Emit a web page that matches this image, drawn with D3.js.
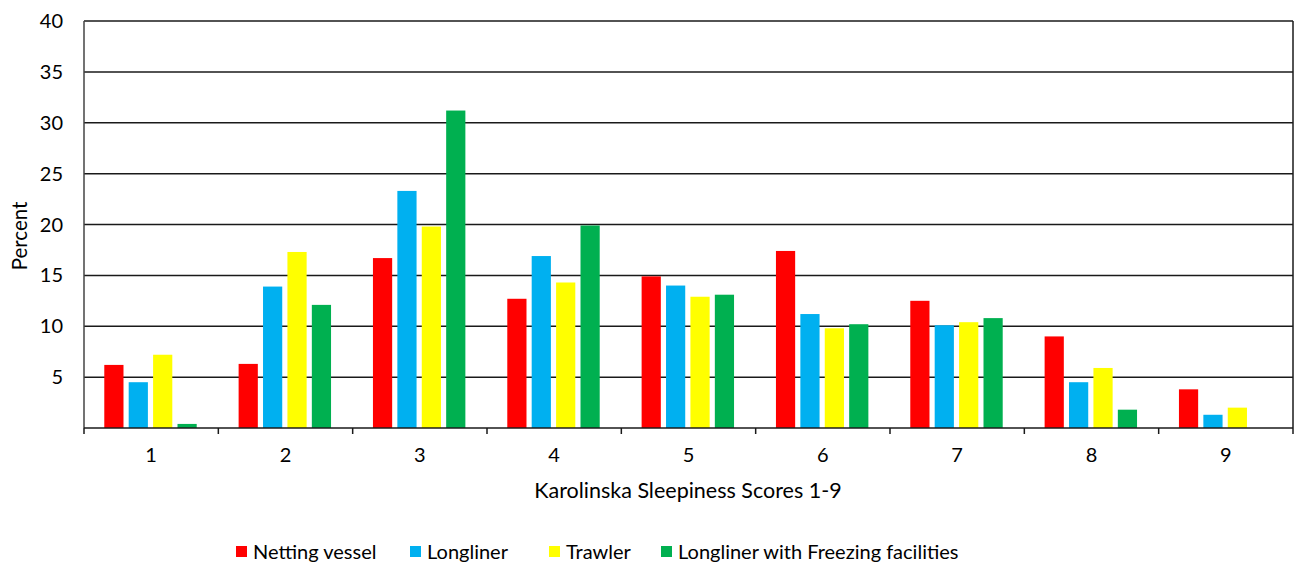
<!DOCTYPE html>
<html lang="en">
<head>
    <meta charset="UTF-8">
    <title>Karolinska Sleepiness Scores</title>
    <script src="https://d3js.org/d3.v7.min.js"></script>
    <style>
        body { margin: 0; background: #fff; font-family: Lato, "Open Sans", sans-serif; }
        svg text { fill: #000; }
    </style>
</head>
<body>
<div id="chart"></div>
<script>
    // Data
    const scores = ["1", "2", "3", "4", "5", "6", "7", "8", "9"];
    const seriesNames = ["Netting vessel", "Longliner", "Trawler", "Longliner with Freezing facilities"];
    const seriesColors = ["#ff0000", "#00b0f0", "#ffff00", "#00b050"];
    const nettingVessel = [6.2, 6.3, 16.7, 12.7, 14.9, 17.4, 12.5, 9.0, 3.8];
    const longliner = [4.5, 13.9, 23.3, 16.9, 14.0, 11.2, 10.1, 4.5, 1.3];
    const trawler = [7.2, 17.3, 19.8, 14.3, 12.9, 9.8, 10.4, 5.9, 2.0];
    const longlinerFreezing = [0.4, 12.1, 31.2, 19.9, 13.1, 10.2, 10.8, 1.8, 0];
    const yTicks = [5, 10, 15, 20, 25, 30, 35, 40];

    const allSeries = [nettingVessel, longliner, trawler, longlinerFreezing];

    const width = 1294, height = 565;
    const margin = { top: 21, right: 1, bottom: 137, left: 84 };

    const svg = d3.select("#chart").append("svg")
        .attr("width", width).attr("height", height);

    const x0 = d3.scaleBand().domain(scores)
        .range([margin.left, width - margin.right]).padding(0);
    const cw = x0.bandwidth();
    const x1 = d3.scaleBand().domain(seriesNames.map((d, i) => i))
        .range([cw * 0.151, cw * 0.839]).paddingInner(0.213).paddingOuter(0);
    const y = d3.scaleLinear().domain([0, 40]).range([height - margin.bottom, margin.top]);

    // gridlines
    svg.append("g").selectAll("line").data(yTicks).join("line")
        .attr("x1", margin.left).attr("x2", width - margin.right)
        .attr("y1", d => y(d)).attr("y2", d => y(d))
        .attr("stroke", "#1a1a1a").attr("stroke-width", 1.5);

    // y labels
    svg.append("g").selectAll("text").data(yTicks).join("text")
        .attr("x", 63).attr("y", d => y(d)).attr("dy", "0.35em")
        .attr("text-anchor", "end").attr("font-size", 20)
        .text(d => d);

    // bars
    const groups = svg.append("g").selectAll("g").data(scores).join("g")
        .attr("transform", d => `translate(${x0(d)},0)`);
    groups.selectAll("rect")
        .data((d, i) => allSeries.map((s, k) => ({ k, v: s[i] })))
        .join("rect")
        .attr("x", d => x1(d.k))
        .attr("width", x1.bandwidth())
        .attr("y", d => y(d.v))
        .attr("height", d => y(0) - y(d.v))
        .attr("fill", d => seriesColors[d.k]);

    // axes lines
    svg.append("line")
        .attr("x1", margin.left).attr("x2", margin.left)
        .attr("y1", y(40)).attr("y2", y(0))
        .attr("stroke", "#444").attr("stroke-width", 1.5);
    svg.append("line")
        .attr("x1", width - margin.right).attr("x2", width - margin.right)
        .attr("y1", y(40)).attr("y2", y(0))
        .attr("stroke", "#1a1a1a").attr("stroke-width", 1.5);
    svg.append("line")
        .attr("x1", margin.left).attr("x2", width - margin.right)
        .attr("y1", y(0)).attr("y2", y(0))
        .attr("stroke", "#1a1a1a").attr("stroke-width", 1.5);

    // x ticks at category boundaries
    const bounds = scores.map(s => x0(s)).concat([width - margin.right]);
    svg.append("g").selectAll("line").data(bounds).join("line")
        .attr("x1", d => d).attr("x2", d => d)
        .attr("y1", y(0)).attr("y2", y(0) + 6)
        .attr("stroke", "#1a1a1a").attr("stroke-width", 1.5);

    // x labels
    svg.append("g").selectAll("text").data(scores).join("text")
        .attr("x", d => x0(d) + cw / 2).attr("y", 462)
        .attr("text-anchor", "middle").attr("font-size", 20)
        .text(d => d);

    // axis titles
    svg.append("text")
        .attr("x", 688).attr("y", 498)
        .attr("text-anchor", "middle").attr("font-size", 21.5)
        .text("Karolinska Sleepiness Scores 1-9");
    svg.append("text")
        .attr("transform", "translate(27,236) rotate(-90)")
        .attr("text-anchor", "middle").attr("font-size", 20.5)
        .text("Percent");

    // legend
    const legendX = [236, 410, 549, 661];
    const legend = svg.append("g").selectAll("g").data(seriesNames).join("g")
        .attr("transform", (d, i) => `translate(${legendX[i]},546)`);
    legend.append("rect").attr("width", 11).attr("height", 11)
        .attr("fill", (d, i) => seriesColors[i]);
    legend.append("text").attr("x", 17).attr("y", 13)
        .attr("font-size", 20).text(d => d);
</script>
</body>
</html>
